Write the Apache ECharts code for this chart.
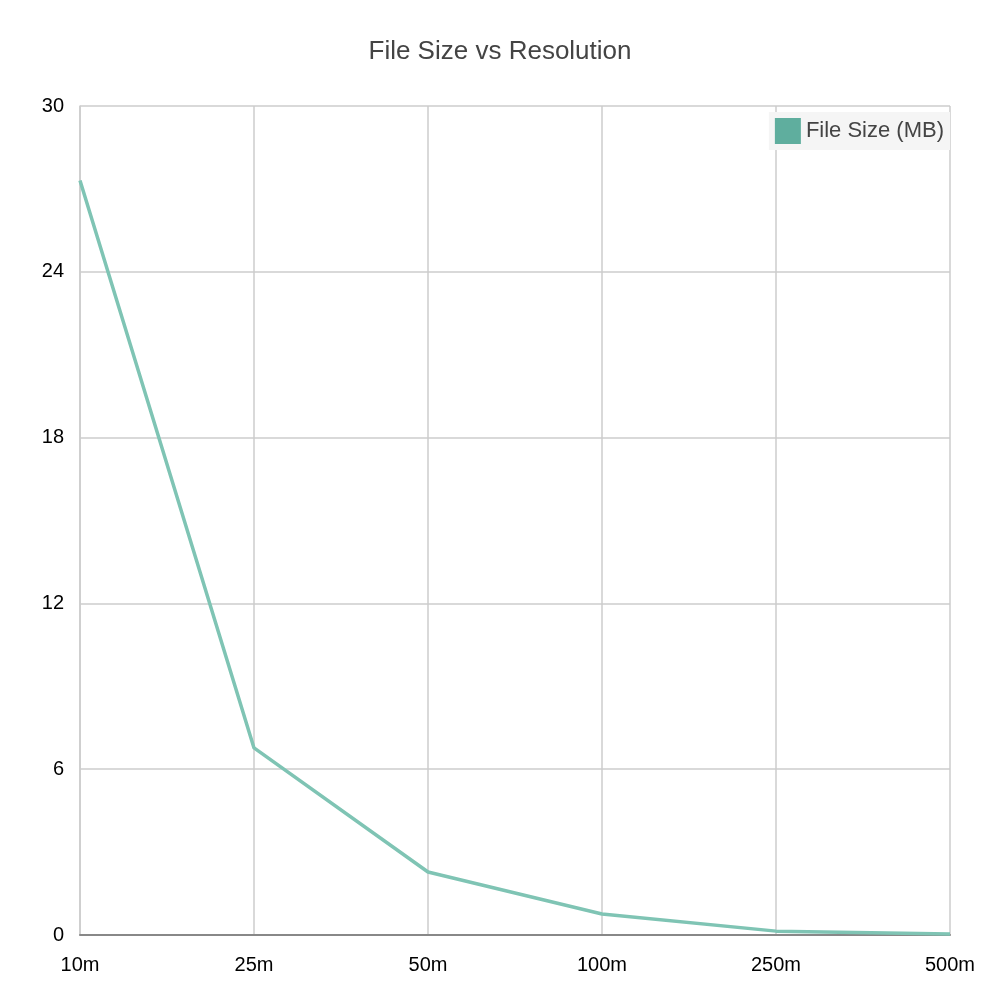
<!DOCTYPE html>
<html><head><meta charset="utf-8">
<script src="https://cdn.jsdelivr.net/npm/echarts@6/dist/echarts.min.js"></script>
<style>html,body{margin:0;padding:0;background:#fff}#c{width:1000px;height:1000px}</style>
</head><body><div id="c"></div>
<script>
const categories = ['10m','25m','50m','100m','250m','500m'];
const fileSizeMB = [27.3, 6.77, 2.28, 0.76, 0.14, 0.04];
const yTicks = [0, 6, 12, 18, 24, 30];
const chart = echarts.init(document.getElementById('c'));
chart.setOption({
  animation: false,
  title: { text: 'File Size vs Resolution', left: 'center', top: 34,
    textStyle: { fontFamily: 'Liberation Sans, Arial', fontSize: 26, fontWeight: 'normal', color: '#444' } },
  legend: { right: 50, top: 112, itemWidth: 26, itemHeight: 26, icon: 'rect',
    backgroundColor: '#f5f5f5', padding: [6, 6],
    textStyle: { fontFamily: 'Liberation Sans, Arial', fontSize: 22, color: '#444' } },
  grid: { left: 80, right: 50, top: 106, bottom: 65 },
  xAxis: { type: 'category', data: categories, boundaryGap: false,
    axisLine: { lineStyle: { color: '#888', width: 2 } }, axisTick: { show: false },
    splitLine: { show: true, lineStyle: { color: '#ccc', width: 1.5 } },
    axisLabel: { color: '#000', fontSize: 20, margin: 20, fontFamily: 'Liberation Sans, Arial',
      formatter: (v, i) => v, alignMinLabel: 'center', alignMaxLabel: 'center' } },
  yAxis: { type: 'value', min: yTicks[0], max: yTicks[yTicks.length-1], interval: 6,
    axisLine: { show: true, lineStyle: { color: '#ccc', width: 1.5 } }, axisTick: { show: false },
    splitLine: { lineStyle: { color: '#ccc', width: 1.5 } },
    axisLabel: { color: '#000', fontSize: 20, margin: 16, fontFamily: 'Liberation Sans, Arial' } },
  series: [{ name: 'File Size (MB)', type: 'line', data: fileSizeMB, showSymbol: false,
    color: '#5fae9e', lineStyle: { color: '#7fc4b4', width: 3.5 } }]
});
</script></body></html>
